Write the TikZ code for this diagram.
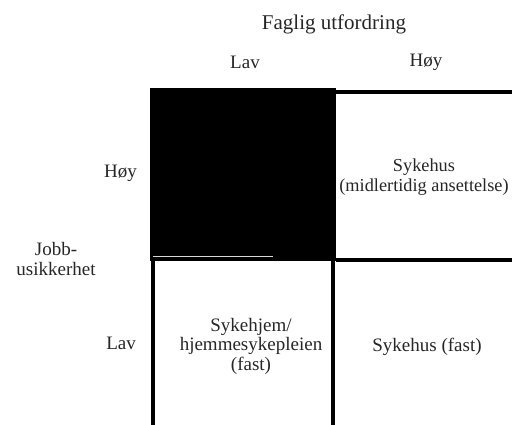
\documentclass[tikz,border=0pt]{standalone}
\usepackage{fontspec}
\setmainfont{Liberation Serif}
\begin{document}
\begin{tikzpicture}[x=1pt,y=-1pt,
		lbl/.style={text=black!85,inner sep=0pt,align=center,font=\fontsize{19}{19.5}\selectfont},
		grid/.style={line width=4pt}]
		\useasboundingbox (0,0) rectangle (512,425);
		\clip (0,0) rectangle (512,425);
		% axis titles
		\node[lbl,font=\fontsize{21}{21}\selectfont] (faglig) at (334,24) {Faglig utfordring};
		\node[lbl] (collav) at (245,62) {Lav};
		\node[lbl] (colhoy) at (426,62) {Høy};
		\node[lbl] (jobb) at (56,259) {Jobb-\\usikkerhet};
		\node[lbl,anchor=east] (rowhoy) at (137,173) {Høy};
		\node[lbl,anchor=east] (rowlav) at (136,343) {Lav};
		% the four cells
		\fill (150,88) rectangle (336,261);
		\draw[white!70!gray,line width=1pt] (153,257) -- (273,257);
		\draw[grid] (336,92) -- (514,92);
		\draw[grid] (336,260) -- (514,260);
		\draw[grid] (153,261) -- (153,427);
		\draw[grid] (333,261) -- (333,427);
		\node[lbl,font=\fontsize{18.3}{19.5}\selectfont] (sykehusmid) at (424,177) {Sykehus\\(midlertidig ansettelse)};
		\node[lbl] (sykehjem) at (251,346) {Sykehjem/\\hjemmesykepleien\\(fast)};
		\node[lbl] (sykehusfast) at (427,347) {Sykehus (fast)};
	\end{tikzpicture}
\end{document}
